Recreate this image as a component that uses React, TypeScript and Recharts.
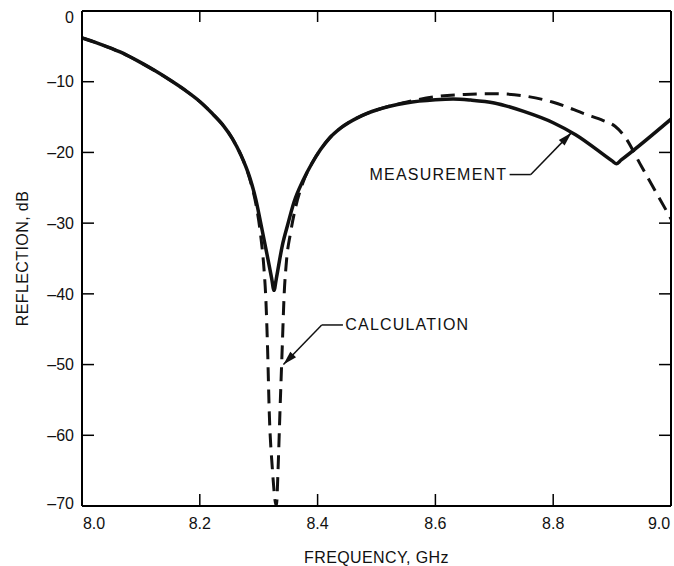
import React from 'react';
import { LineChart, Line, XAxis, YAxis, ReferenceLine, ReferenceDot } from 'recharts';

// frequency (GHz) / reflection (dB)
const measFreq = [8.0, 8.025, 8.05, 8.075, 8.1, 8.125, 8.15, 8.175, 8.2, 8.22, 8.24, 8.255, 8.27, 8.285, 8.295, 8.303, 8.315, 8.322, 8.326, 8.33, 8.34, 8.349, 8.36, 8.375, 8.39, 8.405, 8.42, 8.44, 8.47, 8.5, 8.55, 8.6, 8.63, 8.66, 8.7, 8.75, 8.8, 8.838, 8.9, 8.907, 8.915, 9.0];
const measDb = [-3.8, -4.5, -5.3, -6.2, -7.3, -8.5, -9.8, -11.2, -12.8, -14.4, -16.2, -18.0, -20.4, -23.6, -26.6, -29.8, -34.8, -37.8, -39.5, -37.8, -33.2, -30.3, -27.0, -24.0, -21.6, -19.6, -18.0, -16.5, -15.0, -14.0, -13.0, -12.55, -12.45, -12.6, -13.0, -14.2, -15.8, -17.5, -21.2, -21.6, -21.1, -15.3];

const calcFreq = [8.0, 8.025, 8.05, 8.075, 8.1, 8.125, 8.15, 8.175, 8.2, 8.22, 8.24, 8.255, 8.27, 8.285, 8.295, 8.303, 8.309, 8.312, 8.315, 8.318, 8.323, 8.33, 8.333, 8.336, 8.34, 8.343, 8.347, 8.354, 8.362, 8.375, 8.39, 8.405, 8.42, 8.44, 8.47, 8.5, 8.55, 8.6, 8.65, 8.7, 8.75, 8.8, 8.855, 8.885, 8.905, 8.92, 8.95, 9.0];
const calcDb = [-3.8, -4.5, -5.3, -6.2, -7.3, -8.5, -9.8, -11.2, -12.8, -14.4, -16.2, -18.0, -20.4, -23.8, -27.2, -31.5, -36.5, -40.5, -47.5, -56.9, -64.5, -70, -64.5, -56.9, -47.5, -40.5, -35.5, -31.4, -28.0, -24.3, -21.6, -19.6, -18.0, -16.5, -15.0, -14.0, -12.9, -12.1, -11.8, -11.7, -12.0, -12.9, -14.6, -15.5, -16.3, -17.6, -22.0, -29.4];

const xTicks = [8.0, 8.2, 8.4, 8.6, 8.8, 9.0];
const yTicks = [0, -10, -20, -30, -40, -50, -60, -70];

const measurement = measFreq.map((f, i) => ({ f, db: measDb[i] }));
const calculation = calcFreq.map((f, i) => ({ f, db: calcDb[i] }));

const FONT = '"Liberation Sans", Arial, sans-serif';
const INK = '#111';

// annotation anchors, in data units
const measNote = { text: 'MEASUREMENT', at: { x: 8.722, y: -23.13 }, elbow: { x: 8.762, y: -23.13 }, start: { x: 8.726, y: -23.13 }, tip: { x: 8.831, y: -17.2 }, angle: -46 };
const calcNote = { text: 'CALCULATION', at: { x: 8.447, y: -44.4 }, elbow: { x: 8.407, y: -44.4 }, start: { x: 8.443, y: -44.4 }, tip: { x: 8.342, y: -50.0 }, angle: 134 };

const XTick = ({ x, y, payload }: any) => {
    const v = payload.value;
    const dx = v === 8 ? 12 : v === 9 ? -11 : 0;
    return (
        <text x={x + dx} y={y} dy="0.71em" textAnchor="middle" fontFamily={FONT} fontSize={16} fill={INK}>
            {v.toFixed(1)}
        </text>
    );
};

const YTick = ({ x, y, payload }: any) => {
    const v = payload.value;
    const dy = v === 0 ? 6 : v === -70 ? -3 : 0;
    return (
        <text x={x} y={y + dy} dy="0.355em" textAnchor="end" fontFamily={FONT} fontSize={16} fill={INK}>
            {v === 0 ? '0' : '\u2013' + Math.abs(v)}
        </text>
    );
};

const Arrow = ({ cx, cy, angle }: any) => (
    <polygon points="0,0 -14,-4 -14,4" fill={INK} transform={`translate(${cx},${cy}) rotate(${angle})`} />
);

const NoteText = ({ cx, cy, text, anchor }: any) => (
    <text x={cx} y={cy} dominantBaseline="central" textAnchor={anchor} fontFamily={FONT} fontSize={16} letterSpacing={1.2} fill={INK}>
        {text}
    </text>
);

const Note: any = (note: any, anchor: string) => [
    <ReferenceLine key="h" xAxisId="b" yAxisId="l" segment={[note.start, note.elbow]} stroke={INK} strokeWidth={1.5} />,
    <ReferenceLine key="d" xAxisId="b" yAxisId="l" segment={[note.elbow, note.tip]} stroke={INK} strokeWidth={1.5} />,
    <ReferenceDot key="a" xAxisId="b" yAxisId="l" x={note.tip.x} y={note.tip.y} r={0} shape={(p: any) => <Arrow cx={p.cx} cy={p.cy} angle={note.angle} />} />,
    <ReferenceDot key="t" xAxisId="b" yAxisId="l" x={note.at.x} y={note.at.y} r={0} shape={(p: any) => <NoteText cx={p.cx} cy={p.cy} text={note.text} anchor={anchor} />} />,
];

export default function App() {
    return (
        <div style={{ position: 'fixed', left: 0, top: 0, background: '#fff' }}>
            <LineChart width={674} height={566} margin={{ top: 10, right: 2, bottom: 0, left: 0 }}>
                <XAxis
                    xAxisId="b" type="number" dataKey="f" domain={[8, 9]} ticks={xTicks} orientation="bottom"
                    height={60} tickSize={-12} tickMargin={24} tick={<XTick />} stroke="#000"
                    axisLine={{ strokeWidth: 2 }} tickLine={{ strokeWidth: 1.5 }} allowDataOverflow
                    label={{ value: 'FREQUENCY, GHz', position: 'insideBottom', offset: 3, fill: INK, fontSize: 16, fontFamily: FONT, letterSpacing: 0.4 } as any}
                />
                <XAxis
                    xAxisId="t" type="number" dataKey="f" domain={[8, 9]} ticks={xTicks} orientation="top"
                    height={1} tickSize={-11} tickFormatter={() => ''} stroke="#000"
                    axisLine={{ strokeWidth: 2 }} tickLine={{ strokeWidth: 1.5 }} allowDataOverflow
                />
                <YAxis
                    yAxisId="l" type="number" domain={[-70, 0]} ticks={yTicks} width={82}
                    tickSize={-12} tickMargin={20} tick={<YTick />} stroke="#000"
                    axisLine={{ strokeWidth: 2 }} tickLine={{ strokeWidth: 1.5 }} allowDataOverflow
                    label={{ value: 'REFLECTION, dB', angle: -90, position: 'insideLeft', offset: 22, fill: INK, fontSize: 16, fontFamily: FONT, letterSpacing: 0.4, style: { textAnchor: 'middle' } } as any}
                />
                <YAxis
                    yAxisId="r" orientation="right" type="number" domain={[-70, 0]} ticks={yTicks} width={1}
                    tickSize={-12} tickFormatter={() => ''} stroke="#000"
                    axisLine={{ strokeWidth: 2 }} tickLine={{ strokeWidth: 1.5 }} allowDataOverflow
                />
                <Line
                    xAxisId="b" yAxisId="l" data={calculation} dataKey="db" type="monotoneX"
                    stroke={INK} strokeWidth={3} strokeDasharray="14 8" dot={false} isAnimationActive={false}
                />
                <Line
                    xAxisId="b" yAxisId="l" data={measurement} dataKey="db" type="monotoneX"
                    stroke={INK} strokeWidth={3.5} dot={false} isAnimationActive={false}
                />
                {Note(measNote, 'end')}
                {Note(calcNote, 'start')}
            </LineChart>
        </div>
    );
}
